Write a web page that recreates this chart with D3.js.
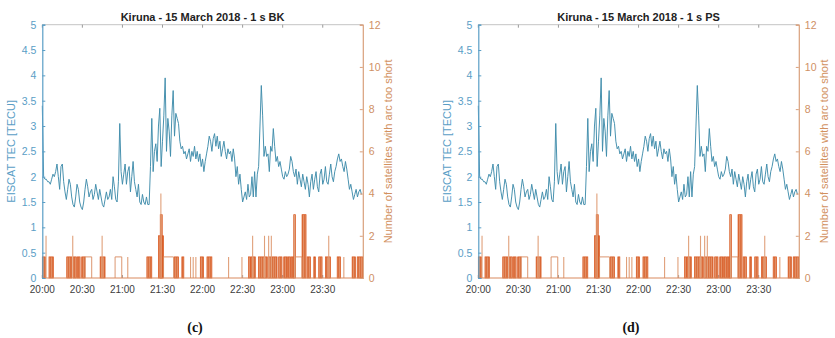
<!DOCTYPE html>
<html>
<head>
<meta charset="utf-8">
<script src="https://cdn.jsdelivr.net/npm/d3@7"></script>
<style>
  html, body { margin: 0; padding: 0; background: #ffffff; }
  svg { display: block; }
</style>
</head>
<body>
<svg id="chart" width="835" height="338"></svg>
<script>
// ---------------- DATA ----------------
// Panel titles and sub-labels
const panelTitles = ["Kiruna - 15 March 2018 - 1 s BK", "Kiruna - 15 March 2018 - 1 s PS"];
const panelLetters = ["(c)", "(d)"];

// x axis: minutes after 20:00
const xTickMinutes = [0, 30, 60, 90, 120, 150, 180, 210];
const xTickLabels = ["20:00", "20:30", "21:00", "21:30", "22:00", "22:30", "23:00", "23:30"];
const tecTicks = [0, 0.5, 1, 1.5, 2, 2.5, 3, 3.5, 4, 4.5, 5];
const satTicks = [0, 2, 4, 6, 8, 10, 12];

// EISCAT TEC [TECU], one value per minute from 20:00 (index = minute)
const tecValues = [
  3.4, 2.0, 1.95, 1.95, 1.9, 1.9, 1.85, 1.95, 2.05, 2.0,
  2.1, 2.25, 2.0, 1.75, 2.2, 2.25, 1.9, 1.7, 1.55, 1.75,
  1.95, 1.85, 1.6, 1.45, 1.4, 1.6, 1.85, 1.75, 1.5, 1.4,
  1.35, 1.5, 1.75, 1.95, 1.8, 1.6, 1.7, 1.75, 1.55, 1.65,
  1.85, 1.7, 1.55, 1.75, 1.6, 1.45, 1.4, 1.55, 1.7, 1.55,
  1.6, 1.75, 1.55, 2.0, 1.8, 1.55, 1.5, 1.9, 3.05, 2.1,
  1.85, 2.05, 2.25, 1.85, 2.1, 2.2, 1.7, 2.0, 2.3, 1.9,
  1.75, 1.6, 1.85, 1.5, 1.45, 1.65, 1.5, 1.45, 1.6, 1.45,
  1.45, 2.2, 3.15, 2.1, 2.5, 2.65, 2.3, 3.0, 3.35, 2.2,
  2.7, 3.2, 3.95, 2.5, 3.15, 2.9, 2.4, 3.2, 3.7, 2.8,
  3.25, 3.15, 3.05, 2.7, 2.55, 2.6, 2.45, 2.5, 2.35, 2.45,
  2.55, 2.3, 2.5, 2.4, 2.6, 2.35, 2.5, 2.3, 2.45, 2.2,
  2.35, 2.1, 2.3, 2.45, 2.6, 2.8, 2.7, 2.5, 2.75, 2.85,
  2.6, 2.8, 2.55, 2.7, 2.4, 2.55, 2.7, 2.5, 2.35, 2.55,
  2.45, 2.5, 2.3, 2.55, 2.35, 2.0, 2.2, 1.85, 2.05, 1.75,
  1.5, 1.6, 1.7, 1.55, 1.85, 1.6, 1.65, 2.0, 1.6, 2.1,
  1.6, 2.05, 2.2, 3.0, 3.8, 3.2, 2.4, 2.6, 2.4, 2.45,
  2.1, 2.6, 2.5, 2.95, 2.6, 2.3, 2.4, 2.2, 2.3, 2.15,
  2.0, 1.95, 2.1, 2.0, 2.05, 2.15, 2.4, 2.3, 2.1, 2.0,
  2.15, 1.85, 2.1, 1.95, 1.8, 2.05, 1.9, 1.75, 2.0, 1.85,
  1.6, 1.9, 2.05, 1.75, 1.95, 2.1, 1.8, 1.7, 2.05, 2.15,
  1.85, 1.95, 2.2, 1.9, 1.85, 2.05, 2.25, 2.0, 1.9, 2.1,
  2.2, 2.35, 2.45, 2.3, 2.35, 2.2, 2.1, 2.3, 2.15, 1.95,
  1.75, 1.85, 1.7, 1.55, 1.65, 1.75, 1.6, 1.7, 1.75, 1.65
];

// Number of satellites with arc too short (stairs at 1 s):
// rapidly toggling stretches [startMin, endMin, count]
const denseBlocks = [
  [0, 2.5, 1], [5, 8.3, 1], [18.3, 22, 1], [23.3, 25.5, 1], [26.3, 28.3, 1],
  [29.5, 32, 1], [43.3, 47, 1], [78.3, 82, 1], [87, 90.8, 2], [88.3, 89.8, 3],
  [99, 102, 1], [104.5, 106, 1], [118.3, 120.8, 1], [123.3, 127, 1],
  [154.5, 156, 1], [156.3, 159.5, 1], [161.9, 168.1, 1], [168.8, 175.8, 1],
  [177, 179.5, 1], [180.8, 183.3, 1], [183.8, 185.8, 1], [186.3, 188.3, 1],
  [188.3, 189.5, 3], [194.5, 197.5, 3], [198.3, 200.8, 1], [203.3, 204.5, 1],
  [207, 209.5, 1], [212, 215.8, 1], [220.8, 223.3, 1], [232, 234.5, 1], [235.8, 240, 1]
];
// steady stretches (drawn as an open step) [startMin, endMin, count]
const steadyBlocks = [
  [32, 37, 1], [54.5, 59.5, 1], [90.8, 98.3, 1], [189.5, 194.5, 1]
];
// short single steps [minute, count]
const spikes = [
  [2.8, 2], [22.8, 2], [44.8, 2], [64, 1], [88.8, 4], [111, 1], [113, 1], [115, 1],
  [139.5, 1], [149.5, 1], [157.5, 2], [166.4, 2], [169.5, 2], [171.5, 2],
  [188.8, 3], [214.5, 2], [225.8, 1]
];

// ---------------- DRAW ----------------
const svg = d3.select("#chart");
const plotW = 320.5, plotTop = 24.7, plotBottom = 278;
const panelX = [42.3, 478.3];

const blueAxis = "#5a9ec6";
const blueLine = "#3f8cab";
const orangeAxis = "#d9a07c";
const orangeBar = "#d95319";

// striped fill imitating the 1 s stairs toggling
const defs = svg.append("defs");
const pat = defs.append("pattern").attr("id", "stripes")
  .attr("patternUnits", "userSpaceOnUse").attr("width", 2).attr("height", 10);
pat.append("rect").attr("width", 2).attr("height", 10).attr("fill", "#f3c6ac");
pat.append("rect").attr("width", 1.3).attr("height", 10).attr("fill", "#d45a22");

function drawPanel(p) {
  const g = svg.append("g").attr("transform", `translate(${panelX[p]},0)`);
  const x = d3.scaleLinear().domain([0, 240]).range([0, plotW]);
  const yL = d3.scaleLinear().domain([0, 5]).range([plotBottom, plotTop]);
  const yR = d3.scaleLinear().domain([0, 12]).range([plotBottom, plotTop]);

  // top frame line + ticks
  g.append("line").attr("x1", 0).attr("x2", plotW).attr("y1", plotTop).attr("y2", plotTop)
    .attr("stroke", "#c4c4c4").attr("stroke-width", 1);
  g.selectAll(".ttick").data(xTickMinutes).enter().append("line")
    .attr("x1", d => x(d)).attr("x2", d => x(d)).attr("y1", plotTop).attr("y2", plotTop + 3)
    .attr("stroke", "#9a9a9a").attr("stroke-width", 1);
  g.selectAll(".btick").data(xTickMinutes).enter().append("line")
    .attr("x1", d => x(d)).attr("x2", d => x(d)).attr("y1", plotBottom).attr("y2", plotBottom - 3)
    .attr("stroke", "#9a9a9a").attr("stroke-width", 1);

  // bars (right axis)
  const bars = g.append("g");
  bars.selectAll(".dense").data(denseBlocks).enter().append("rect")
    .attr("x", d => x(d[0])).attr("width", d => Math.max(0.8, x(d[1]) - x(d[0])))
    .attr("y", d => yR(d[2])).attr("height", d => yR(0) - yR(d[2]))
    .attr("fill", "url(#stripes)")
    .attr("stroke", orangeBar).attr("stroke-width", 0.7);
  bars.selectAll(".steady").data(steadyBlocks).enter().append("path")
    .attr("d", d => `M${x(d[0])},${yR(0)}V${yR(d[2])}H${x(d[1])}V${yR(0)}`)
    .attr("fill", "none").attr("stroke", "#d88a60").attr("stroke-width", 0.9);
  bars.selectAll(".spike").data(spikes).enter().append("line")
    .attr("x1", d => x(d[0])).attr("x2", d => x(d[0]))
    .attr("y1", yR(0)).attr("y2", d => yR(d[1]))
    .attr("stroke", "#e0a07a").attr("stroke-width", 1.1);
  // zero baseline of the stairs
  g.append("line").attr("x1", 0).attr("x2", plotW).attr("y1", yR(0)).attr("y2", yR(0))
    .attr("stroke", "#d98a5e").attr("stroke-width", 1.2);

  // TEC line
  const line = d3.line().x((d, i) => x(i)).y(d => yL(d));
  g.append("path").datum(tecValues).attr("d", line)
    .attr("fill", "none").attr("stroke", blueLine).attr("stroke-width", 0.95)
    .attr("stroke-linejoin", "round");

  // left axis
  const axL = d3.axisLeft(yL).tickValues(tecTicks).tickSize(-3).tickPadding(6)
    .tickFormat(d3.format("~g"));
  const gL = g.append("g").call(axL);
  gL.select(".domain").attr("stroke", blueAxis).attr("stroke-width", 1.2);
  gL.selectAll(".tick line").attr("stroke", blueAxis);
  gL.selectAll(".tick text").attr("fill", blueAxis)
    .style("font-family", "Liberation Sans, Arial, sans-serif").style("font-size", "10.5px");

  // right axis
  const axR = d3.axisRight(yR).tickValues(satTicks).tickSize(-3).tickPadding(6);
  const gR = g.append("g").attr("transform", `translate(${plotW},0)`).call(axR);
  gR.select(".domain").attr("stroke", orangeAxis).attr("stroke-width", 1.2);
  gR.selectAll(".tick line").attr("stroke", orangeAxis);
  gR.selectAll(".tick text").attr("fill", "#cf9064")
    .style("font-family", "Liberation Sans, Arial, sans-serif").style("font-size", "10.5px");

  // bottom tick labels
  g.selectAll(".xlab").data(xTickMinutes).enter().append("text")
    .attr("x", d => x(d)).attr("y", 293)
    .attr("text-anchor", "middle")
    .attr("fill", "#3c3c3c")
    .style("font-family", "Liberation Sans, Arial, sans-serif").style("font-size", "10px")
    .text((d, i) => xTickLabels[i]);

  // title
  g.append("text").attr("x", plotW / 2).attr("y", 21).attr("text-anchor", "middle")
    .attr("fill", "#222")
    .style("font-family", "Liberation Sans, Arial, sans-serif").style("font-size", "11px")
    .style("font-weight", "bold").text(panelTitles[p]);

  // y labels
  g.append("text").attr("transform", `translate(${-27},${(plotTop + plotBottom) / 2}) rotate(-90)`)
    .attr("text-anchor", "middle").attr("fill", blueAxis)
    .style("font-family", "Liberation Sans, Arial, sans-serif").style("font-size", "11px")
    .text("EISCAT TEC [TECU]");
  g.append("text").attr("transform", `translate(${plotW + 29},${(plotTop + plotBottom) / 2}) rotate(-90)`)
    .attr("text-anchor", "middle").attr("fill", "#d2915f")
    .style("font-family", "Liberation Sans, Arial, sans-serif").style("font-size", "11px")
    .text("Number of satellites with arc too short");

  // panel letter
  g.append("text").attr("x", p === 0 ? 195 - panelX[0] : 631 - panelX[1]).attr("y", 332)
    .attr("text-anchor", "middle").attr("fill", "#111")
    .style("font-family", "Liberation Serif, DejaVu Serif, serif").style("font-size", "14px")
    .style("font-weight", "bold").text(panelLetters[p]);
}

drawPanel(0);
drawPanel(1);
</script>
</body>
</html>
